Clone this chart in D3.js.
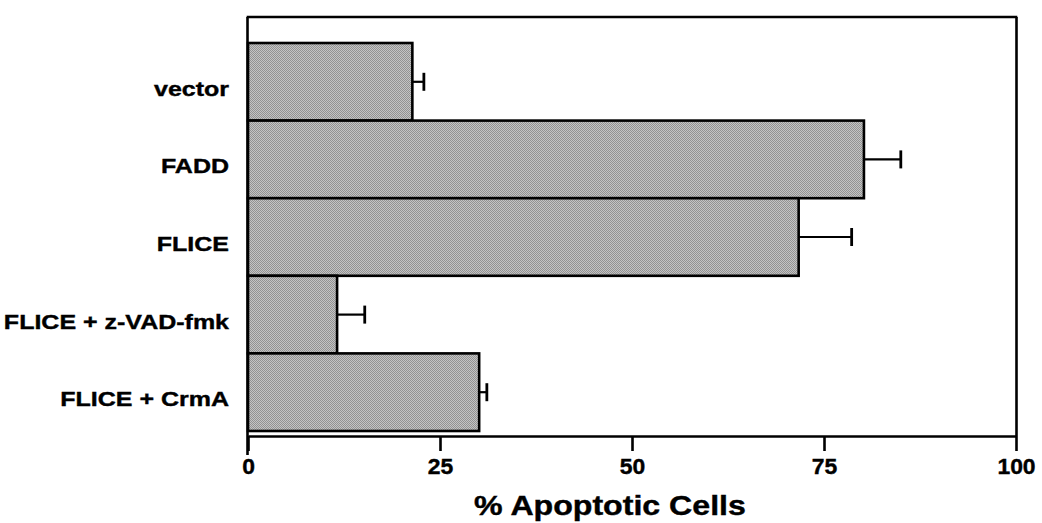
<!DOCTYPE html>
<html>
<head>
<meta charset="utf-8">
<script src="https://cdn.jsdelivr.net/npm/d3@7"></script>
<style>
  html, body { margin: 0; padding: 0; background: #fff; }
  svg { display: block; }
  text { font-family: "Liberation Sans", Arial, Helvetica, sans-serif; font-weight: bold; fill: #000; }
</style>
</head>
<body>
<svg id="chart" width="1042" height="523"></svg>
<script>
const categories = ["vector", "FADD", "FLICE", "FLICE + z-VAD-fmk", "FLICE + CrmA"];
const values = [21.4, 80.2, 71.7, 11.6, 30.1];
const errorEnds = [22.9, 85.0, 78.6, 15.2, 31.1];
const xTicks = [0, 25, 50, 75, 100];
const xTitle = "% Apoptotic Cells";

(function () {
const svg = d3.select("#chart");
const plotLeft = 248, plotRight = 1016, plotTop = 17, barTop = 43, barBottom = 431, axisY = 436;
const stretch = 1.19;

const x = d3.scaleLinear().domain([0, 100]).range([plotLeft, plotRight]);
const y = d3.scaleBand().domain(categories).range([barTop, barBottom]).padding(0);

// halftone-like fill
const defs = svg.append("defs");
const pat = defs.append("pattern").attr("id", "dots").attr("patternUnits", "userSpaceOnUse")
  .attr("width", 2).attr("height", 2);
pat.append("rect").attr("width", 2).attr("height", 2).attr("fill", "#c4c4c4");
pat.append("rect").attr("x", 0).attr("y", 0).attr("width", 1).attr("height", 1).attr("fill", "#929292");
pat.append("rect").attr("x", 1).attr("y", 1).attr("width", 1).attr("height", 1).attr("fill", "#929292");

// bars
svg.append("g").selectAll("rect").data(categories).join("rect")
  .attr("x", x(0))
  .attr("y", d => y(d))
  .attr("width", (d, i) => x(values[i]) - x(0))
  .attr("height", y.bandwidth())
  .attr("fill", "url(#dots)")
  .attr("stroke", "#000")
  .attr("stroke-width", 2.6);

// error bars
const eg = svg.append("g").attr("stroke", "#000").attr("stroke-width", 2.2);
categories.forEach((c, i) => {
  const cy = y(c) + y.bandwidth() / 2;
  eg.append("line").attr("x1", x(values[i])).attr("x2", x(errorEnds[i])).attr("y1", cy).attr("y2", cy);
  eg.append("line").attr("x1", x(errorEnds[i])).attr("x2", x(errorEnds[i])).attr("y1", cy - 9).attr("y2", cy + 9).attr("stroke-width", 2.8);
});

// frame
const fg = svg.append("g").attr("stroke", "#000").attr("stroke-width", 2.6).attr("fill", "none");
fg.append("line").attr("x1", plotLeft - 1.3).attr("x2", plotRight + 1.3).attr("y1", plotTop).attr("y2", plotTop);
fg.append("line").attr("x1", plotLeft - 0.5).attr("x2", plotLeft - 0.5).attr("y1", plotTop).attr("y2", 455);
fg.append("line").attr("x1", plotRight + 0.5).attr("x2", plotRight + 0.5).attr("y1", plotTop).attr("y2", axisY);

// x axis
const axis = d3.axisBottom(x).tickValues(xTicks).tickFormat(d3.format("d"))
  .tickSize(15).tickSizeOuter(0).tickPadding(6);
const ag = svg.append("g").attr("transform", `translate(0,${axisY})`).call(axis);
ag.select(".domain").attr("stroke", "#000").attr("stroke-width", 2.6);
ag.selectAll(".tick line").attr("stroke", "#000").attr("stroke-width", 2.6);
ag.selectAll(".tick text")
  .attr("font-size", 22)
  .attr("font-family", "'Liberation Sans', Arial, sans-serif")
  .attr("font-weight", "bold")
  .attr("fill", "#000")
  .attr("stroke", "#000").attr("stroke-width", 0.4)
  .attr("transform", "translate(0,1) scale(1.04,1)");

// category labels
svg.append("g").selectAll("text").data(categories).join("text")
  .attr("transform", d => `translate(229,${y(d) + y.bandwidth() / 2 + 14}) scale(${stretch},1)`)
  .attr("text-anchor", "end")
  .attr("font-size", 21)
  .attr("stroke", "#000").attr("stroke-width", 0.4)
  .text(d => d);

// axis title
svg.append("text")
  .attr("transform", `translate(610,515) scale(${stretch},1)`)
  .attr("text-anchor", "middle")
  .attr("font-size", 27)
  .attr("stroke", "#000").attr("stroke-width", 0.4)
  .text(xTitle);
})();
</script>
</body>
</html>
